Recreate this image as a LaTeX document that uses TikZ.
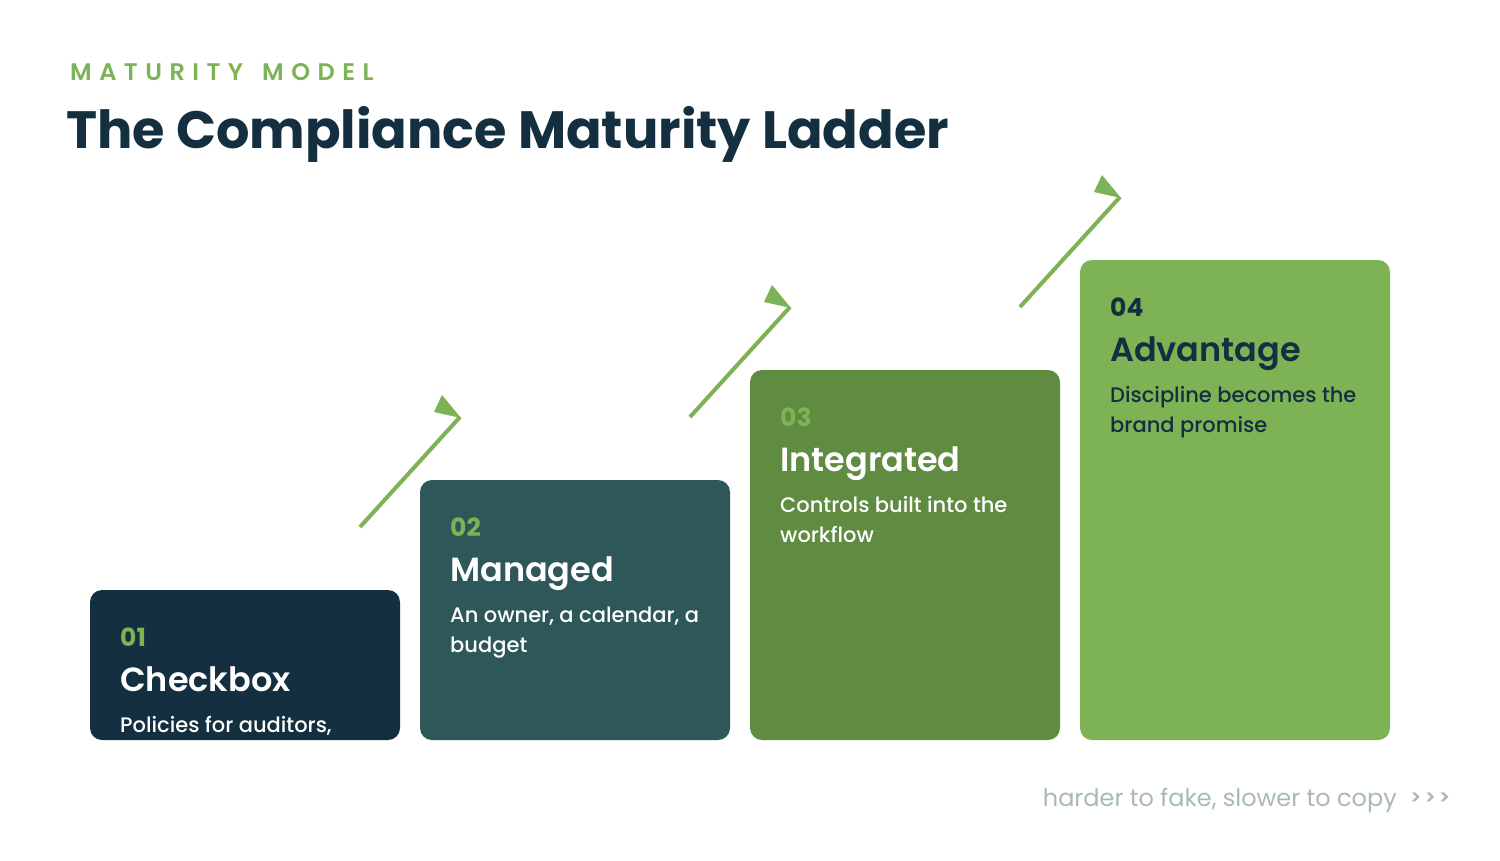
\documentclass[tikz,border=0pt]{standalone}
\usepackage{fontspec}
\setmainfont{Poppins}
\newfontfamily\popsemi{Poppins SemiBold}
\newfontfamily\popmed{Poppins Medium}
\newfontfamily\popbold{Poppins Bold}
\definecolor{navy}{HTML}{132F40}
\definecolor{teal}{HTML}{2E5759}
\definecolor{olive}{HTML}{5F8C40}
\definecolor{lgreen}{HTML}{7DB255}
\definecolor{greyt}{HTML}{A8B8BC}
\begin{document}
\begin{tikzpicture}[x=1pt,y=-1pt,
 card/.style={rounded corners=12pt,draw=none},
 num/.style={anchor=base west,inner sep=0,font=\popbold\fontsize{25}{30}\selectfont},
 ttl/.style={anchor=base west,inner sep=0,font=\popsemi\fontsize{33.5}{40}\selectfont},
 body/.style={anchor=base west,inner sep=0,align=left,font=\popmed\fontsize{21}{30}\selectfont},
 arr/.style={draw=lgreen,line width=4pt},
 head/.style={fill=lgreen}]
\useasboundingbox (0,0) rectangle (1500,860);
\fill[white] (0,0) rectangle (1500,860);
\node[anchor=base west,inner sep=0,text=lgreen,font=\popsemi\fontsize{24}{28}\selectfont] (kick) at (70,80) {M\kern7.5pt A\kern7.5pt T\kern7.5pt U\kern7.5pt R\kern7.5pt I\kern7.5pt T\kern7.5pt Y\kern19pt M\kern7.5pt O\kern7.5pt D\kern7.5pt E\kern7.5pt L};
\node[anchor=base west,inner sep=0,text=navy,font=\popbold\fontsize{52.5}{60}\selectfont] (title) at (66,148) {The Compliance Maturity Ladder};
% cards
\fill[card,navy] (90,590) rectangle (400,740);
\fill[card,teal] (420,480) rectangle (730,740);
\fill[card,olive] (750,370) rectangle (1060,740);
\fill[card,lgreen] (1080,260) rectangle (1390,740);
\node[num,text=lgreen] (n1) at (120,646) {01};
\node[ttl,text=white] (t1) at (120,691) {Checkbox};
\node[body,text=white] (b1) at (120,732) {Policies for auditors,};
\node[num,text=lgreen] (n2) at (450,536) {02};
\node[ttl,text=white] (t2) at (450,581) {Managed};
\node[body,text=white] (b2) at (450,652) {An owner, a calendar, a\\budget};
\node[num,text=lgreen] (n3) at (780,426) {03};
\node[ttl,text=white] (t3) at (780,471) {Integrated};
\node[body,text=white] (b3) at (780,542) {Controls built into the\\workflow};
\node[num,text=navy] (n4) at (1110,316) {04};
\node[ttl,text=navy] (t4) at (1110,361) {Advantage};
\node[body,text=navy] (b4) at (1110,432) {Discipline becomes the\\brand promise};
% arrows
\coordinate (a1s) at (360,527); \coordinate (a1e) at (460,417);
\coordinate (a2s) at (690,417); \coordinate (a2e) at (790,307);
\coordinate (a3s) at (1020,307); \coordinate (a3e) at (1120,197);
\draw[arr] (a1s) -- (a1e);
\draw[arr] (a2s) -- (a2e);
\draw[arr] (a3s) -- (a3e);
\fill[head] (442,395) -- (434,412) -- (461,418) -- cycle;
\fill[head] (772,285) -- (764,302) -- (791,308) -- cycle;
\fill[head] (1102,175) -- (1094,192) -- (1121,198) -- cycle;
\node[anchor=base east,inner sep=0,text=greyt,font=\fontsize{24}{28}\selectfont] (foot) at (1397,806) {harder to fake, slower to copy};
\node[anchor=base west,inner sep=0,text=greyt,font=\popsemi\fontsize{20}{24}\selectfont] (chev) at (1410,804) {>\kern3pt>\kern3pt>};
\end{tikzpicture}
\end{document}
